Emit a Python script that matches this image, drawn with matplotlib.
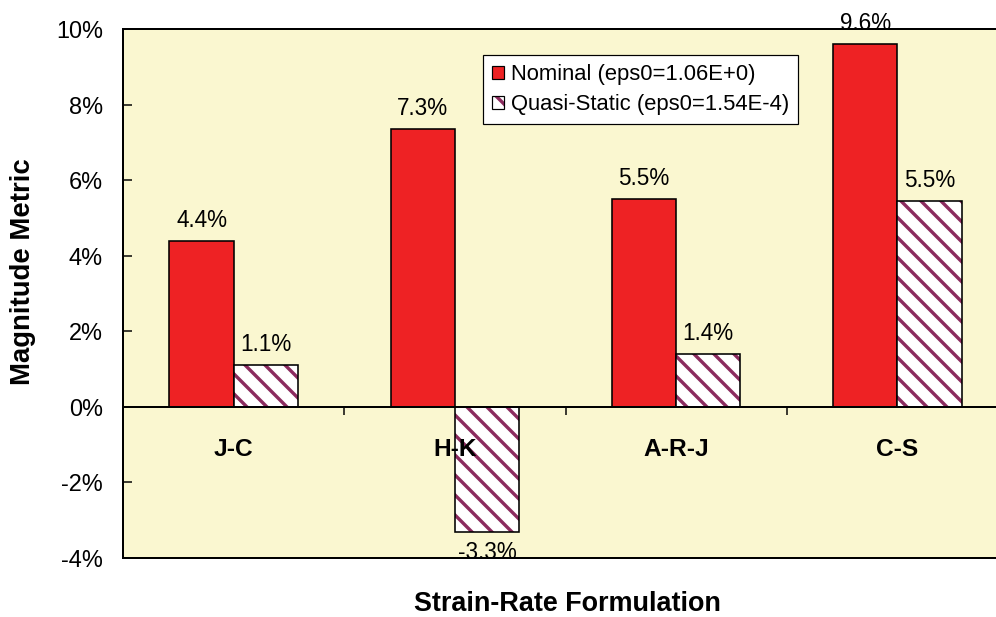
import matplotlib
matplotlib.use("Agg")
import matplotlib.pyplot as plt
from matplotlib.patches import Patch
from matplotlib.legend_handler import HandlerTuple
import numpy as np

categories = ["J-C", "H-K", "A-R-J", "C-S"]
nominal = [4.4, 7.35, 5.5, 9.6]
quasi_static = [1.1, -3.3, 1.4, 5.45]
nominal_labels = ["4.4%", "7.3%", "5.5%", "9.6%"]
quasi_labels = ["1.1%", "-3.3%", "1.4%", "5.5%"]
series_names = ["Nominal (eps0=1.06E+0)", "Quasi-Static (eps0=1.54E-4)"]
yticks = [-4, -2, 0, 2, 4, 6, 8, 10]
ytick_labels = ["-4%", "-2%", "0%", "2%", "4%", "6%", "8%", "10%"]

DPI = 120
def pt(px):
    return px * 72.0 / DPI

plt.rcParams['font.family'] = ['Liberation Sans', 'DejaVu Sans']
plt.rcParams['axes.unicode_minus'] = False
plt.rcParams['hatch.linewidth'] = pt(3.4)

W, H = 996, 617
fig = plt.figure(figsize=((W + 0.01) / DPI, (H + 0.01) / DPI), dpi=DPI)
left, right, top, bottom = 123, 1008, 29, 558
ax = fig.add_axes([left / W, 1 - bottom / H, (right - left) / W, (bottom - top) / H])

RED = "#EE2224"
MAROON = "#8B2B5E"
BG = "#FAF7D0"
ax.set_facecolor(BG)

x = np.arange(len(categories))
bw = 0.29
lw = pt(1.6)

b1 = ax.bar(x - bw / 2, nominal, bw, color=RED, edgecolor="black", linewidth=lw, zorder=3)
b2h = ax.bar(x + bw / 2, quasi_static, bw, color="white", edgecolor=MAROON, hatch="\\\\",
             linewidth=0, zorder=3)
b2o = ax.bar(x + bw / 2, quasi_static, bw, fill=False, edgecolor="black", linewidth=lw, zorder=3.1)

ax.axhline(0, color="black", linewidth=pt(2), zorder=3.2)
# category separator ticks on zero line
ax.vlines(x[:-1] + 0.5, -0.21, 0, color="black", linewidth=pt(1.5), zorder=3.2)

ax.set_xlim(-0.5, len(categories) - 0.5)
ax.set_ylim(-4, 10)
ax.set_yticks(yticks)
ax.set_yticklabels(ytick_labels, fontsize=pt(23.5))
ax.tick_params(axis="y", direction="in", length=pt(9), width=pt(1.5), pad=pt(20))
ax.set_xticks([])

for s in ["left", "top", "bottom"]:
    ax.spines[s].set_linewidth(pt(2))
    ax.spines[s].set_color("black")
ax.spines["right"].set_visible(False)

val_fs = pt(22.5)
for xi, v, lab in zip(x - bw / 2, nominal, nominal_labels):
    ax.annotate(lab, xy=(xi, v), xytext=(0, pt(9)), textcoords="offset points",
                ha="center", va="bottom", fontsize=val_fs, annotation_clip=False, zorder=5)
for xi, v, lab in zip(x + bw / 2, quasi_static, quasi_labels):
    if v >= 0:
        ax.annotate(lab, xy=(xi, v), xytext=(0, pt(9)), textcoords="offset points",
                    ha="center", va="bottom", fontsize=val_fs, annotation_clip=False, zorder=5)
    else:
        ax.annotate(lab, xy=(xi, v), xytext=(0, -pt(9)), textcoords="offset points",
                    ha="center", va="top", fontsize=val_fs, annotation_clip=False, zorder=2)

for xi, c in zip(x, categories):
    ax.annotate(c, xy=(xi, 0), xytext=(0, -pt(43)), textcoords="offset points",
                ha="center", va="center", fontsize=pt(24.5), fontweight="bold", zorder=5)

fig.text(567 / W, 1 - 604 / H, "Strain-Rate Formulation", ha="center", va="center",
         fontsize=pt(27), fontweight="bold")
fig.text(23 / W, 1 - 272 / H, "Magnitude Metric", ha="center", va="center",
         rotation=90, fontsize=pt(27.5), fontweight="bold")

h1 = Patch(facecolor=RED, edgecolor="black", linewidth=pt(1.2))
h2a = Patch(facecolor="white", edgecolor=MAROON, hatch="\\\\", linewidth=0)
h2b = Patch(fill=False, edgecolor="black", linewidth=pt(1.2))
leg = ax.legend([h1, (h2a, h2b)], series_names, loc="upper left",
                bbox_to_anchor=((483 - left) / (right - left), 1 - (55 - top) / (bottom - top)),
                borderaxespad=0, fontsize=pt(22), frameon=True, fancybox=False,
                edgecolor="black", framealpha=1, handlelength=0.55, handleheight=0.55,
                handletextpad=0.3, labelspacing=0.4, borderpad=0.42,
                handler_map={tuple: HandlerTuple(ndivide=1, pad=0)})
leg.get_frame().set_linewidth(pt(1.2))
leg.set_zorder(6)

fig.savefig("out.png", dpi=DPI, facecolor="white")
